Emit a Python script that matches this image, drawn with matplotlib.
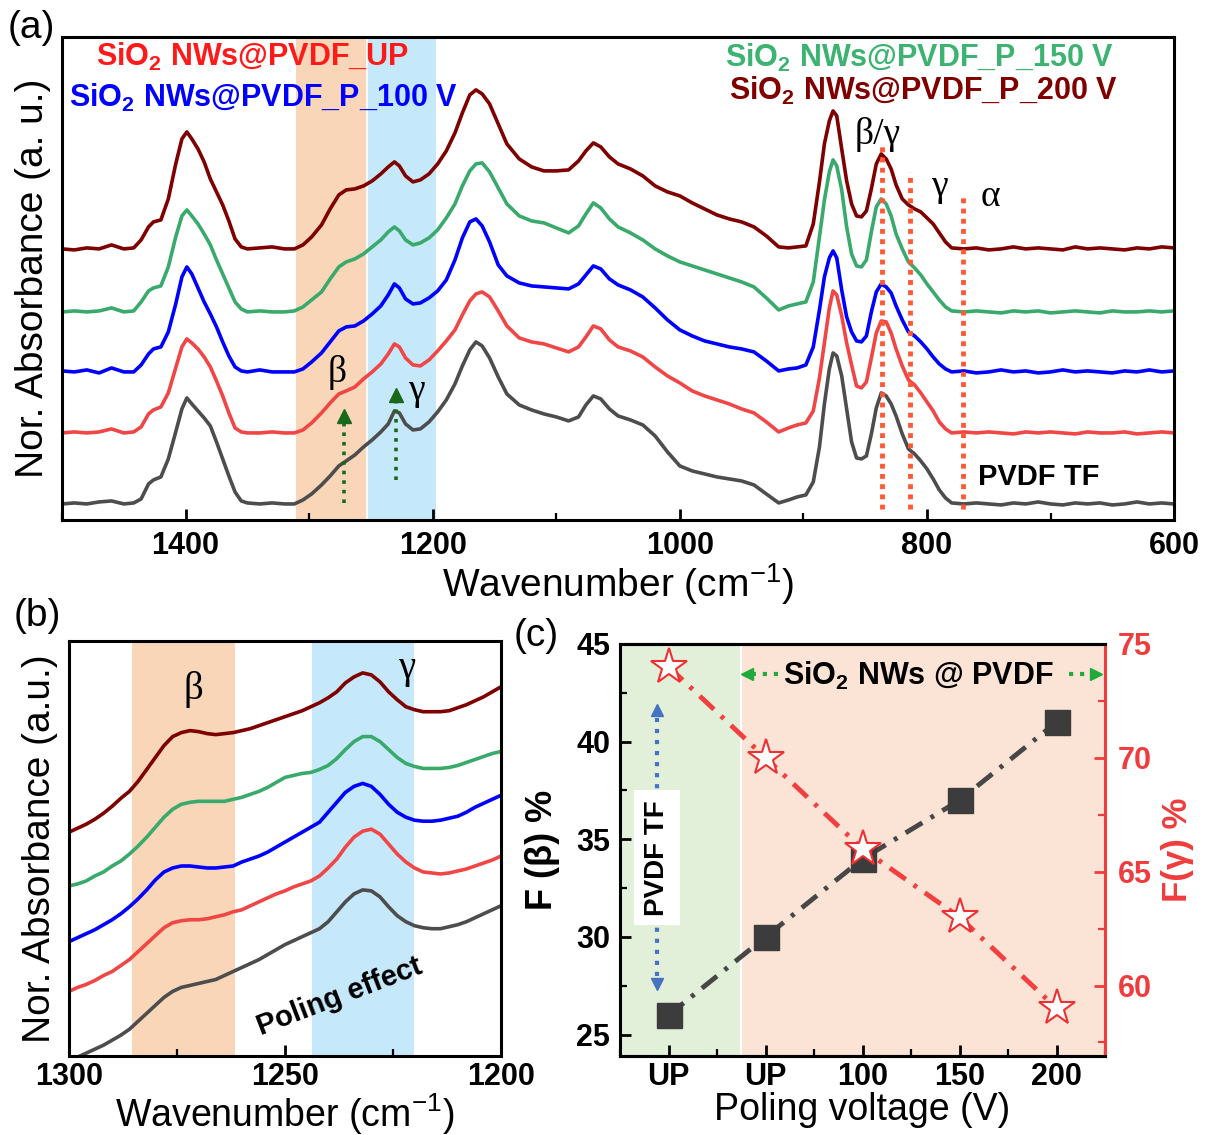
import numpy as np
import matplotlib.pyplot as plt
from matplotlib.ticker import MultipleLocator

plt.rcParams['font.family'] = ['Liberation Sans', 'DejaVu Sans']
plt.rcParams['mathtext.fontset'] = 'custom'
plt.rcParams['mathtext.rm'] = 'Liberation Sans'
plt.rcParams['mathtext.bf'] = 'Liberation Sans:bold'
plt.rcParams['xtick.direction'] = 'in'
plt.rcParams['ytick.direction'] = 'in'
plt.rcParams['axes.linewidth'] = 2.2

SERIF = ['Liberation Serif', 'DejaVu Serif']

# ---------------- (a) FTIR spectra, 1500-600 cm-1 ----------------
wn = [1500, 1490, 1480, 1470, 1460, 1450, 1442, 1436, 1430, 1426,
      1420, 1414, 1408, 1403, 1399, 1395, 1390, 1385, 1380, 1375,
      1370, 1365, 1360, 1355, 1350, 1340, 1330, 1320, 1312, 1305,
      1298, 1290, 1283, 1276, 1270, 1263, 1256, 1249, 1242, 1236,
      1231, 1227, 1222, 1216, 1210, 1203, 1196, 1189, 1182, 1176,
      1170, 1165, 1160, 1154, 1147, 1140, 1130, 1120, 1110, 1100,
      1090, 1082, 1076, 1070, 1064, 1057, 1050, 1040, 1030, 1020,
      1010, 1000, 990, 980, 970, 960, 950, 940, 930, 920,
      912, 905, 898, 892, 887, 883, 879, 876, 873, 869,
      865, 861, 857, 853, 849, 845, 841, 837, 833, 829,
      825, 820, 815, 810, 805, 800, 795, 790, 785, 780,
      770, 760, 750, 740, 730, 720, 710, 700, 690, 680,
      670, 660, 650, 640, 630, 620, 610, 600]

abs_tf = [0, 1, 0, 2, 3, 0, 1, 5, 20, 24,
          27, 45, 72, 95, 106, 100, 93, 86, 78, 62,
          45, 28, 12, 3, 1, 0, 1, 0, 0, 4,
          10, 19, 28, 38, 43, 49, 57, 64, 72, 80,
          93, 91, 80, 74, 75, 82, 92, 104, 120, 138,
          154, 162, 158, 146, 127, 110, 99, 94, 90, 87,
          83, 87, 99, 108, 105, 95, 88, 84, 79, 68,
          52, 38, 33, 30, 27, 25, 23, 19, 10, 1,
          4, 7, 9, 22, 57, 100, 135, 151, 148, 128,
          95, 62, 46, 45, 48, 70, 96, 111, 108, 100,
          88, 70, 55, 50, 43, 35, 25, 14, 6, 1,
          0, 1, 0, -1, 1, 0, 2, 0, -1, 1,
          0, 1, -1, 0, 2, 0, 1, 0]

abs_up = [0, 1, 0, 1, 4, 0, 1, 6, 19, 23,
          26, 40, 65, 86, 94, 90, 84, 76, 66, 52,
          37, 20, 5, 1, 0, 0, 1, 0, 0, 3,
          10, 20, 30, 39, 42, 46, 54, 61, 69, 79,
          89, 86, 75, 68, 67, 73, 82, 92, 103, 118,
          132, 139, 141, 136, 122, 107, 95, 91, 89, 85,
          81, 86, 96, 107, 104, 93, 86, 82, 76, 66,
          57, 50, 42, 37, 33, 29, 24, 20, 11, 1,
          5, 8, 10, 22, 55, 90, 125, 142, 138, 117,
          90, 68, 47, 45, 51, 75, 100, 112, 111, 100,
          84, 67, 53, 48, 40, 31, 22, 11, 4, 0,
          1, 0, 1, 0, -1, 1, 0, 1, 0, -1,
          1, 0, 0, 1, -1, 0, 1, 0]

abs_100 = [1, 0, 2, -1, 4, 0, 0, 7, 18, 23,
           25, 40, 68, 95, 105, 98, 84, 70, 58, 45,
           30, 16, 5, 1, 0, 2, 0, 0, 0, 3,
           10, 19, 30, 41, 45, 46, 51, 58, 66, 77,
           88, 84, 73, 68, 69, 74, 81, 92, 112, 134,
           150, 153, 146, 130, 107, 96, 89, 86, 85, 84,
           83, 88, 97, 106, 103, 93, 87, 82, 75, 64,
           52, 42, 36, 31, 28, 25, 23, 20, 11, 1,
           3, 4, 7, 25, 62, 95, 114, 121, 114, 82,
           55, 40, 31, 30, 36, 60, 80, 88, 85, 79,
           66, 52, 40, 36, 30, 23, 15, 8, 3, 0,
           1, -1, 0, 2, 0, 1, -1, 0, 2, 0,
           1, 0, -1, 1, 0, 2, 0, 1]

abs_150 = [0, 1, 0, 1, 4, 0, 1, 10, 21, 24,
           26, 45, 75, 96, 102, 96, 88, 78, 67, 52,
           38, 24, 10, 3, 0, 1, 0, 0, 1, 5,
           12, 20, 33, 45, 50, 53, 58, 65, 72, 80,
           85, 81, 72, 67, 69, 74, 82, 94, 108, 126,
           141, 148, 149, 140, 124, 108, 96, 91, 89, 84,
           79, 86, 98, 109, 104, 93, 85, 79, 72, 63,
           56, 50, 46, 42, 38, 34, 30, 25, 14, 2,
           6, 8, 10, 30, 75, 112, 140, 152, 146, 122,
           85, 58, 46, 45, 52, 80, 105, 113, 108, 96,
           78, 63, 50, 44, 37, 28, 20, 12, 5, 1,
           0, 1, 0, -1, 1, 0, 1, -1, 0, 1,
           0, -1, 1, 0, 0, 1, 0, 1]

abs_200 = [0, -1, 1, 0, 4, 0, 1, 9, 22, 27,
           29, 50, 85, 110, 117, 110, 100, 87, 70, 57,
           44, 28, 10, 2, 0, 1, 2, 0, 0, 4,
           12, 24, 40, 54, 59, 60, 63, 68, 75, 82,
           87, 83, 73, 67, 69, 75, 85, 98, 116, 136,
           154, 159, 155, 145, 125, 105, 90, 82, 78, 78,
           79, 88, 98, 106, 102, 92, 85, 80, 73, 63,
           57, 53, 46, 40, 34, 30, 27, 22, 13, 2,
           1, 2, 3, 25, 67, 105, 128, 138, 133, 100,
           68, 45, 33, 32, 38, 60, 85, 95, 90, 80,
           64, 50, 44, 40, 37, 31, 25, 16, 7, 1,
           0, 1, -1, 0, 2, 0, 1, 0, -1, 2,
           0, 1, 0, -1, 1, 0, 2, 1]

spectra = [abs_tf, abs_up, abs_100, abs_150, abs_200]
offsets = [16, 87, 148, 208, 271]
line_colors = ['#4d4d4d', '#f04646', '#0000ff', '#3aaa6c', '#7f0000']
for s in spectra:
    assert len(s) == len(wn)

# marker lines for the bands (cm-1) and how high they reach
mode_wn = [836.5, 814, 771]
mode_top = [375, 348, 327]

# ---------------- (b) zoom 1300-1200 cm-1 ----------------
wn_b = list(range(1300, 1199, -2))
b_tf = [-5, -1, 3, 7, 11, 16, 21, 27, 35, 43,
        51, 59, 65, 69, 71, 73, 75, 77, 81, 85,
        89, 93, 97, 102, 107, 112, 116, 120, 124, 128,
        135, 145, 155, 163, 167, 166, 160, 150, 141, 135,
        131, 129, 128, 128, 130, 132, 135, 139, 143, 147, 151]
b_up = [65, 69, 72, 76, 81, 85, 91, 97, 105, 113,
        121, 129, 134, 136, 137, 137, 138, 140, 142, 145,
        147, 151, 155, 159, 163, 166, 170, 173, 176, 181,
        189, 198, 210, 220, 226, 228, 223, 213, 203, 195,
        189, 185, 184, 183, 184, 186, 188, 191, 194, 197, 201]
b_100 = [115, 119, 123, 127, 132, 137, 143, 150, 158, 167,
         177, 185, 189, 191, 191, 190, 189, 189, 190, 191,
         195, 198, 201, 205, 210, 215, 220, 225, 230, 235,
         245, 255, 265, 271, 274, 271, 263, 253, 245, 240,
         237, 236, 236, 237, 239, 241, 245, 250, 254, 258, 262]
b_150 = [171, 173, 176, 181, 185, 191, 196, 203, 211, 220,
         230, 240, 248, 253, 255, 256, 256, 256, 256, 258,
         260, 263, 266, 270, 275, 280, 282, 284, 285, 288,
         292, 299, 308, 316, 321, 321, 316, 308, 300, 294,
         291, 289, 289, 289, 290, 292, 295, 298, 301, 304, 306]
b_200 = [225, 229, 233, 238, 244, 251, 259, 266, 276, 288,
         300, 312, 321, 325, 327, 326, 324, 323, 324, 325,
         327, 329, 332, 335, 338, 341, 344, 347, 351, 355,
         360, 366, 375, 381, 385, 383, 376, 366, 358, 351,
         348, 346, 346, 346, 347, 350, 353, 357, 361, 366, 371]
for s in [b_tf, b_up, b_100, b_150, b_200]:
    assert len(s) == len(wn_b)

# ---------------- (c) phase fractions ----------------
volt_labels = ['UP', 'UP', '100', '150', '200']
f_beta = [26, 30, 34, 37, 41]
f_gamma = [74, 70, 66, 63, 59]

ORANGE = '#f9d6b8'
SKY = '#c6e8fb'
LW = 2.6

fig = plt.figure(figsize=(12.12, 11.35), dpi=100)

# ===== panel (a) =====
ax = fig.add_axes([0.0512, 0.5419, 0.9175, 0.4256])
ax.axvspan(1311, 1253, color=ORANGE, lw=0, zorder=0)
ax.axvspan(1253, 1197, color=SKY, lw=0, zorder=0)
ax.axvline(1253, color='white', lw=1.2, zorder=0.5)
for s, off, c in zip(spectra, offsets, line_colors):
    ax.plot(wn, np.array(s) + off, color=c, lw=LW, zorder=2)
for x, top in zip(mode_wn, mode_top):
    ax.plot([x, x], [11, top], color='#ff5a36', lw=3.5,
            ls=(0, (1, 1.1)), zorder=3)
ax.set_xlim(1500, 600)
ax.set_ylim(0, 483)
ax.set_yticks([])
ax.set_xticks([1400, 1200, 1000, 800, 600],
              labels=['1400', '1200', '1000', '800', '600'],
              fontsize=22, fontweight='bold')
ax.xaxis.set_minor_locator(MultipleLocator(100))
ax.tick_params(axis='x', which='major', length=8, width=2, pad=8)
ax.tick_params(axis='x', which='minor', length=5, width=1.6)
ax.set_xlabel('Wavenumber (cm$^{-1}$)', fontsize=28, labelpad=0)
ax.set_ylabel('Nor. Absorbance (a. u.)', fontsize=28, labelpad=8)

# green arrows to the beta / gamma bands
for x, tail, tip in [(1272, 17, 107), (1229.7, 40, 128)]:
    ax.plot([x, x], [tail, tip - 6], color='#19691c', lw=2.6, ls=':', zorder=4)
    ax.plot(x, tip - 3, marker='^', color='#19691c', ms=10, zorder=4)

ax.text(1277, 147, 'β', family=SERIF, fontsize=27, ha='center', va='center')
ax.text(1213.5, 129, 'γ', family=SERIF, fontsize=27, ha='center', va='center')
ax.text(840, 385, 'β/γ', family=SERIF, fontsize=27, ha='center', va='center')
ax.text(790, 333, 'γ', family=SERIF, fontsize=27, ha='center', va='center')
ax.text(749, 323, 'α', family=SERIF, fontsize=27, ha='center', va='center')
ax.text(0.824, 0.089, 'PVDF TF', transform=ax.transAxes, fontsize=21,
        fontweight='bold', ha='left', va='center')

legend_txt = [(0.0306, 0.940, r'SiO$_\mathbf{2}$ NWs@PVDF_UP', '#ff1a1a'),
              (0.0063, 0.855, r'SiO$_\mathbf{2}$ NWs@PVDF_P_100 V', '#0000ff'),
              (0.596, 0.938, r'SiO$_\mathbf{2}$ NWs@PVDF_P_150 V', '#3cb371'),
              (0.5998, 0.8696, r'SiO$_\mathbf{2}$ NWs@PVDF_P_200 V', '#800000')]
for x, y, t, c in legend_txt:
    ax.text(x, y, t, transform=ax.transAxes, color=c, fontsize=22,
            fontweight='bold', ha='left', va='baseline')

# ===== panel (b) =====
axb = fig.add_axes([0.0569, 0.0695, 0.3564, 0.3657])
axb.axvspan(1285.3, 1261.6, color=ORANGE, lw=0, zorder=0)
axb.axvspan(1243.8, 1220.1, color=SKY, lw=0, zorder=0)
for s, c in zip([b_tf, b_up, b_100, b_150, b_200], line_colors):
    axb.plot(wn_b, s, color=c, lw=LW, zorder=2)
axb.set_xlim(1300, 1200)
axb.set_ylim(0, 417)
axb.set_yticks([])
axb.set_xticks([1300, 1250, 1200], labels=['1300', '1250', '1200'],
               fontsize=22, fontweight='bold')
axb.xaxis.set_minor_locator(MultipleLocator(25))
axb.tick_params(axis='x', which='major', length=8, width=2, pad=4)
axb.tick_params(axis='x', which='minor', length=5, width=1.6)
axb.set_xlabel('Wavenumber (cm$^{-1}$)', fontsize=27, labelpad=0)
axb.set_ylabel('Nor. Absorbance (a.u.)', fontsize=28, labelpad=8)
axb.text(1271.2, 368, 'β', family=SERIF, fontsize=28, ha='center', va='center')
axb.text(1221.8, 389, 'γ', family=SERIF, fontsize=28, ha='center', va='center')
axb.text(1237.3, 60, 'Poling effect', fontsize=21, fontweight='bold',
         rotation=21, ha='center', va='center')

# ===== panel (c) =====
axc = fig.add_axes([0.5116, 0.0695, 0.4002, 0.3631])
xpos = np.arange(len(volt_labels))
axc.axvspan(-0.5, 0.75, color='#e2efd9', lw=0, zorder=0)
axc.axvspan(0.75, 4.5, color='#fbe4d5', lw=0, zorder=0)
axc.axvline(0.75, color='white', lw=1.5, zorder=0.5)
axc.plot(xpos, f_beta, color='#474747', lw=3.5, ls=(0, (4, 2, 0.8, 2)),
         marker='s', ms=18, mfc='#3c3c3c', mec='#3c3c3c', zorder=3)
axc.set_xlim(-0.5, 4.5)
axc.set_ylim(23.9, 45)
axc.set_xticks(xpos, labels=volt_labels, fontsize=22, fontweight='bold')
axc.set_yticks([25, 30, 35, 40, 45], labels=['25', '30', '35', '40', '45'],
               fontsize=22, fontweight='bold')
axc.xaxis.set_minor_locator(MultipleLocator(0.5))
axc.yaxis.set_minor_locator(MultipleLocator(2.5))
axc.tick_params(which='major', length=8, width=2)
axc.tick_params(which='minor', length=5, width=1.6)
axc.tick_params(axis='x', pad=4)
axc.tick_params(axis='y', pad=7)
axc.spines['right'].set_visible(False)
axc.set_xlabel('Poling voltage (V)', fontsize=27, labelpad=0)
axc.set_ylabel('F (β) %', fontsize=26, fontweight='bold', labelpad=12)

# PVDF TF region marker
axc.plot([-0.118, -0.118], [28.0, 41.2], color='#4472c4', lw=3, ls=':', zorder=2)
axc.plot(-0.118, 41.6, marker='^', color='#4472c4', ms=9, zorder=2)
axc.plot(-0.118, 27.6, marker='v', color='#4472c4', ms=9, zorder=2)
axc.text(-0.118, 34.05, 'PVDF TF', rotation=90, fontsize=20, fontweight='bold',
         ha='center', va='center', zorder=4,
         bbox=dict(boxstyle='square,pad=0.35', facecolor='white', edgecolor='none'))

# composite region marker
GREEN = '#1faa3a'
axc.plot([1.125, 0.86], [43.46, 43.46], color=GREEN, lw=3, ls=':')
axc.plot(0.81, 43.46, marker='<', color=GREEN, ms=9)
axc.plot([4.13, 4.36], [43.46, 43.46], color=GREEN, lw=3, ls=':')
axc.plot(4.41, 43.46, marker='>', color=GREEN, ms=9)
axc.text(2.58, 42.92, r'SiO$_\mathbf{2}$ NWs @ PVDF', fontsize=22,
         fontweight='bold', ha='center', va='baseline')

RED = '#f03c3c'
axr = axc.twinx()
axr.plot(xpos, f_gamma, color='#f24040', lw=3.5, ls=(0, (4, 2, 0.8, 2)),
         marker='*', ms=27, mfc='white', mec='#f03030', mew=1.5, zorder=3)
axr.set_ylim(56.9, 75)
axr.set_yticks([60, 65, 70, 75], labels=['60', '65', '70', '75'],
               fontsize=22, fontweight='bold', color=RED)
axr.yaxis.set_minor_locator(MultipleLocator(2.5))
axr.tick_params(axis='y', which='major', length=8, width=2, colors=RED, pad=9)
axr.tick_params(axis='y', which='minor', length=5, width=1.6, colors=RED)
axr.spines['right'].set_color(RED)
axr.spines['left'].set_visible(False)
axr.set_ylabel('F(γ) %', fontsize=25, fontweight='bold', color=RED, labelpad=7)

fig.text(0.0256, 0.9753, '(a)', fontsize=28, ha='center', va='center')
fig.text(0.0305, 0.4573, '(b)', fontsize=28, ha='center', va='center')
fig.text(0.4422, 0.4396, '(c)', fontsize=28, ha='center', va='center')

fig.savefig('out.png', dpi=100)
